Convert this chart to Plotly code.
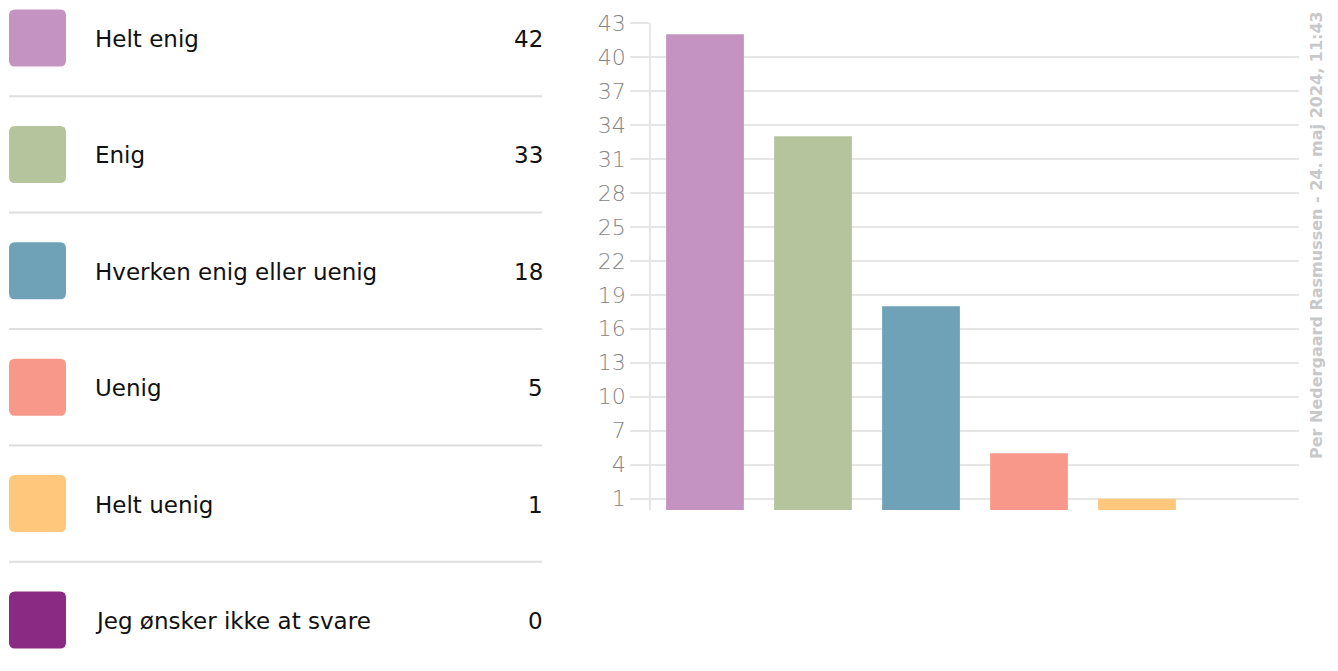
import plotly.graph_objects as go

categories = ["Helt enig", "Enig", "Hverken enig eller uenig", "Uenig", "Helt uenig", "Jeg ønsker ikke at svare"]
values = [42, 33, 18, 5, 1, 0]
colors = ["#c493c1", "#b6c49e", "#6fa2b6", "#f7988a", "#fec77c", "#8a2a83"]
y_ticks = [1, 4, 7, 10, 13, 16, 19, 22, 25, 28, 31, 34, 37, 40, 43]
watermark = "Per Nedergaard Rasmussen - 24. maj 2024, 11:43"

W, H = 1338, 671
FONT = "DejaVu Sans"

def px(x):
    return x / W

def py(y):
    return 1 - y / H

fig = go.Figure()
fig.add_trace(go.Bar(
    x=categories, y=values,
    marker=dict(color=colors, line=dict(width=0)),
    hoverinfo="x+y",
))

shapes = []
annotations = []
row_h = 116.4
for i, (cat, val, col) in enumerate(zip(categories, values, colors)):
    cy = 38 + i * row_h
    x0, x1 = 9, 66
    y0, y1 = cy - 28.5, cy + 28.5
    r = 6
    path = (
        f"M {px(x0 + r)} {py(y0)} L {px(x1 - r)} {py(y0)} "
        f"Q {px(x1)} {py(y0)} {px(x1)} {py(y0 + r)} L {px(x1)} {py(y1 - r)} "
        f"Q {px(x1)} {py(y1)} {px(x1 - r)} {py(y1)} L {px(x0 + r)} {py(y1)} "
        f"Q {px(x0)} {py(y1)} {px(x0)} {py(y1 - r)} L {px(x0)} {py(y0 + r)} "
        f"Q {px(x0)} {py(y0)} {px(x0 + r)} {py(y0)} Z"
    )
    shapes.append(dict(type="path", xref="paper", yref="paper", path=path,
                       fillcolor=col, line=dict(width=0), layer="above"))
    annotations.append(dict(xref="paper", yref="paper", x=px(93), y=py(cy + 1),
                            xanchor="left", yanchor="middle", showarrow=False,
                            text=cat, font=dict(family=FONT, size=23, color="#111111")))
    annotations.append(dict(xref="paper", yref="paper", x=px(545), y=py(cy + 1),
                            xanchor="right", yanchor="middle", showarrow=False,
                            text=str(val), font=dict(family=FONT, size=23, color="#111111")))
    if i < len(categories) - 1:
        ly = cy + row_h / 2
        shapes.append(dict(type="line", xref="paper", yref="paper",
                           x0=px(9), x1=px(542), y0=py(ly), y1=py(ly),
                           line=dict(color="#dedede", width=2)))

annotations.append(dict(xref="paper", yref="paper", x=px(1316), y=py(235),
                        xanchor="center", yanchor="middle", showarrow=False,
                        textangle=-90, text=watermark,
                        font=dict(family=FONT, size=16, color="#c8c8c8", weight="bold")))

fig.update_layout(
    width=W, height=H,
    margin=dict(l=0, r=0, t=0, b=0, autoexpand=False),
    paper_bgcolor="white", plot_bgcolor="white",
    showlegend=False,
    bargap=0.28,
    shapes=shapes,
    annotations=annotations,
    xaxis=dict(domain=[px(651), px(1299)], showticklabels=False, showgrid=False,
               zeroline=False, showline=False, ticks="", automargin=False),
    yaxis=dict(domain=[py(510), py(23)], range=[0, 43], tickvals=y_ticks,
               showgrid=True, gridcolor="#e6e6e6", gridwidth=1.5, automargin=False,
               zeroline=False, showline=True, linecolor="#e6e6e6", linewidth=1.5,
               ticks="outside", ticklen=19, tickcolor="#e6e6e6", tickwidth=1.5,
               tickfont=dict(family=FONT, size=22, color="#858585", weight=300)),
)

fig.write_html("out.html", config={"displayModeBar": False},
               post_script="document.body.style.margin='0';document.body.style.overflow='hidden';")
